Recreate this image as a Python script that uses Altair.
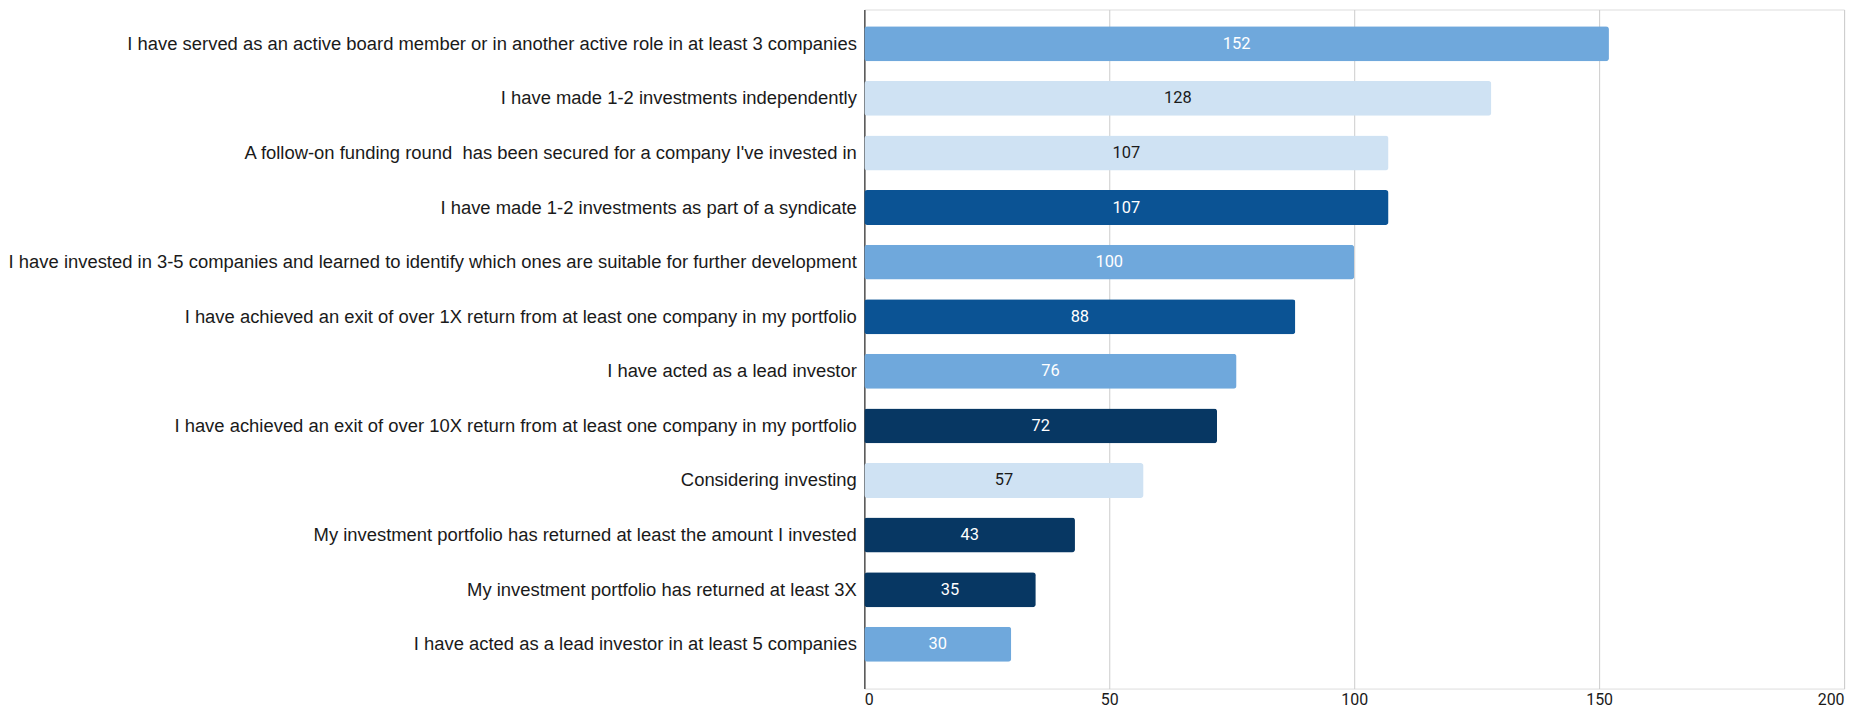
import altair as alt
import pandas as pd

categories = [
    "I have served as an active board member or in another active role in at least 3 companies",
    "I have made 1-2 investments independently",
    "A follow-on funding round\u00a0 has been secured for a company I've invested in",
    "I have made 1-2 investments as part of a syndicate",
    "I have invested in 3-5 companies and learned to identify which ones are suitable for further development",
    "I have achieved an exit of over 1X return from at least one company in my portfolio",
    "I have acted as a lead investor",
    "I have achieved an exit of over 10X return from at least one company in my portfolio",
    "Considering investing",
    "My investment portfolio has returned at least the amount I invested",
    "My investment portfolio has returned at least 3X",
    "I have acted as a lead investor in at least 5 companies",
]
values = [152, 128, 107, 107, 100, 88, 76, 72, 57, 43, 35, 30]
bar_colors = ["#6fa8dc", "#cfe2f3", "#cfe2f3", "#0b5394", "#6fa8dc", "#0b5394",
              "#6fa8dc", "#073763", "#cfe2f3", "#073763", "#073763", "#6fa8dc"]
label_colors = ["#ffffff", "#1a1a1a", "#1a1a1a", "#ffffff", "#ffffff", "#ffffff",
                "#ffffff", "#ffffff", "#1a1a1a", "#ffffff", "#ffffff", "#ffffff"]

df = pd.DataFrame({
    "category": categories,
    "value": values,
    "bar_color": bar_colors,
    "label_color": label_colors,
})
df["half"] = df["value"] / 2

y_enc = alt.Y(
    "category:N",
    sort=categories,
    title=None,
    scale=alt.Scale(paddingInner=0.36, paddingOuter=0.4, align=0.385),
    axis=alt.Axis(
        labelLimit=900,
        labelFontSize=18.5,
        labelFont="Liberation Sans",
        labelColor="#1a1a1a",
        labelPadding=8,
        ticks=False,
        domain=True,
        domainColor="#555555",
        domainWidth=1.5,
        grid=False,
    ),
)

bars = alt.Chart(df).mark_bar(cornerRadius=3).encode(
    x=alt.X(
        "value:Q",
        title=None,
        scale=alt.Scale(domain=[0, 200], nice=False),
        axis=alt.Axis(
            values=[0, 50, 100, 150, 200],
            domain=False,
            ticks=False,
            grid=True,
            gridColor="#cccccc",
            gridWidth=1,
            labelFontSize=16,
            labelFont="Roboto",
            labelColor="#1a1a1a",
            labelPadding=3,
        ),
    ),
    y=y_enc,
    color=alt.Color("bar_color:N", scale=None),
)

labels = alt.Chart(df).mark_text(font="Roboto", fontSize=16.5, align="center", baseline="middle").encode(
    x=alt.X("half:Q"),
    y=alt.Y("category:N", sort=categories),
    text=alt.Text("value:Q"),
    color=alt.Color("label_color:N", scale=None),
)

chart = (bars + labels).properties(
    width=984,
    height=682,
    autosize=alt.AutoSizeParams(type="none"),
    padding={"left": 860, "top": 0, "right": 20, "bottom": 20},
).configure_view(stroke=None).configure(background="white")

chart.save("out.html", embed_options={"renderer": "svg", "actions": False})
